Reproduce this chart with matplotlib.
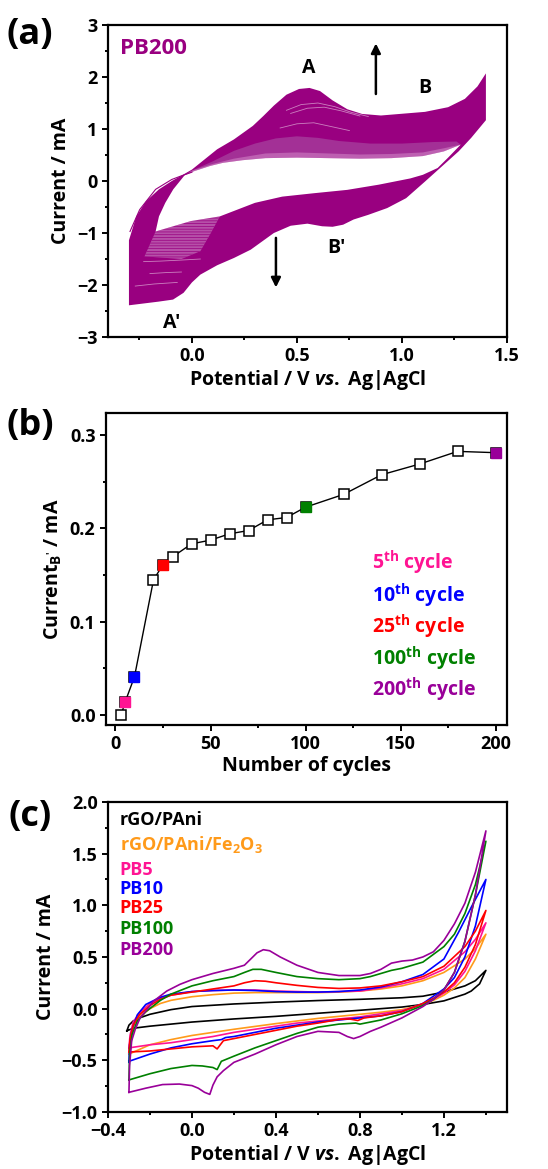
import matplotlib
matplotlib.use('Agg')
from matplotlib import pyplot as plt
from matplotlib.ticker import MultipleLocator

# Fonts (Calibri-like bold look)
plt.rcParams['font.family'] = ['Open Sans', 'DejaVu Sans']
plt.rcParams['font.weight'] = 'bold'
plt.rcParams['axes.labelweight'] = 'bold'
plt.rcParams['mathtext.fontset'] = 'custom'
plt.rcParams['mathtext.rm'] = 'Open Sans:bold'
plt.rcParams['mathtext.it'] = 'Open Sans:italic:bold'
plt.rcParams['mathtext.bf'] = 'Open Sans:bold'
plt.rcParams['hatch.linewidth'] = 0.5

# ---------------- (a) PB200 growth, band envelope of the 200 CV cycles
purple_a = '#990080'
# outer envelope of all cycles
a_outer_x = [-0.30, -0.30, -0.265, -0.219, -0.157, -0.096, -0.043, 0.00, 0.04, 0.12, 0.20, 0.29,
             0.34, 0.39, 0.45, 0.51, 0.56, 0.61, 0.67, 0.74, 0.81, 0.90, 0.99, 1.11, 1.22, 1.30,
             1.36, 1.40, 1.40, 1.33, 1.27, 1.19, 1.11, 1.02, 0.93, 0.84, 0.77, 0.72, 0.67, 0.62,
             0.55, 0.47, 0.39, 0.28, 0.20, 0.12, 0.04, 0.00, -0.04, -0.09, -0.16, -0.30]
a_outer_y = [-2.39, -1.14, -0.68, -0.39, -0.16, 0.00, 0.12, 0.22, 0.35, 0.61, 0.80, 1.06,
             1.25, 1.45, 1.66, 1.77, 1.79, 1.73, 1.55, 1.38, 1.29, 1.26, 1.29, 1.33, 1.42, 1.58,
             1.82, 2.07, 1.17, 0.83, 0.57, 0.28, -0.01, -0.33, -0.52, -0.65, -0.74, -0.84, -0.88, -0.87,
             -0.82, -0.86, -1.00, -1.32, -1.48, -1.62, -1.80, -1.95, -2.15, -2.28, -2.32, -2.39]
# empty region inside the loops
a_hole_x = [-0.035, 0.011, 0.087, 0.148, 0.24, 0.35, 0.50, 0.65, 0.80, 0.95, 1.10, 1.20, 1.28,
            1.22, 1.17, 1.10, 1.04, 0.89, 0.74, 0.58, 0.43, 0.30, 0.133, -0.005, -0.173,
            -0.157, -0.127, -0.089, -0.035]
a_hole_y = [0.11, 0.19, 0.29, 0.35, 0.40, 0.44, 0.45, 0.44, 0.43, 0.44, 0.48, 0.57, 0.70,
            0.45, 0.25, 0.12, 0.05, -0.07, -0.17, -0.235, -0.30, -0.42, -0.68, -0.77, -0.97,
            -0.68, -0.42, -0.16, 0.11]
# sparse early cycles above the hole (wide, faint)
a_light_x = [-0.035, 0.011, 0.087, 0.148, 0.24, 0.35, 0.50, 0.65, 0.80, 0.95, 1.10, 1.20, 1.28,
             1.26, 1.15, 1.00, 0.85, 0.70, 0.60, 0.50, 0.40, 0.30, 0.20, 0.10, 0.00]
a_light_y = [0.11, 0.19, 0.29, 0.35, 0.40, 0.44, 0.45, 0.44, 0.43, 0.44, 0.48, 0.57, 0.70,
             0.76, 0.75, 0.72, 0.72, 0.77, 0.83, 0.86, 0.82, 0.72, 0.58, 0.38, 0.20]
# first few cycles right above the hole (thin, paler)
a_pale_x = [-0.035, 0.011, 0.087, 0.148, 0.24, 0.35, 0.50, 0.65, 0.80, 0.95, 1.10, 1.20, 1.28,
            1.20, 1.10, 0.95, 0.80, 0.65, 0.50, 0.35, 0.20, 0.10, 0.00]
a_pale_y = [0.11, 0.19, 0.29, 0.35, 0.40, 0.44, 0.45, 0.44, 0.43, 0.44, 0.48, 0.57, 0.70,
            0.63, 0.55, 0.52, 0.51, 0.53, 0.55, 0.53, 0.43, 0.33, 0.20]
# sparse early cycles, lower left
a_hatch_x = [-0.173, -0.005, 0.133, 0.09, 0.04, -0.05, -0.226]
a_hatch_y = [-0.97, -0.77, -0.68, -1.00, -1.35, -1.50, -1.45]
# first cycle, visible outside the band on the left
a_first_x = [-0.295, -0.249, -0.173, -0.096, -0.05, 0.00]
a_first_y = [-0.97, -0.55, -0.16, 0.03, 0.10, 0.17]
# a few pale single cycles showing through the band
a_streaks = [
    ([0.45, 0.52, 0.60, 0.68, 0.76, 0.84], [1.36, 1.47, 1.50, 1.43, 1.32, 1.24]),
    ([0.47, 0.55, 0.63, 0.71, 0.80], [1.30, 1.40, 1.42, 1.35, 1.25]),
    ([0.42, 0.50, 0.58, 0.66, 0.75], [1.02, 1.10, 1.12, 1.05, 0.97]),
    ([-0.23, -0.15, -0.05, 0.04], [-1.55, -1.54, -1.52, -1.50]),
    ([-0.20, -0.12, -0.05], [-1.78, -1.76, -1.75]),
    ([-0.27, -0.18, -0.07], [-2.02, -1.98, -1.95]),
]

# ---------------- (b) cathodic peak current vs cycle number
b_cycles = [3, 5, 10, 20, 25, 30, 40, 50, 60, 70, 80, 90, 100, 120, 140, 160, 180, 200]
b_current = [0.0, 0.0133, 0.0409, 0.1448, 0.1613, 0.1695, 0.1835, 0.1875, 0.1943, 0.1978,
             0.2093, 0.2118, 0.2229, 0.2366, 0.2577, 0.2692, 0.2828, 0.2814]
b_marked = [5, 10, 25, 100, 200]
b_colors = ['#FF1493', '#0000FF', '#FF0000', '#008000', '#990099']

# ---------------- (c) CVs of the composites
c_names = ['rGO/PAni', 'rGO/PAni/Fe$_2$O$_3$', 'PB5', 'PB10', 'PB25', 'PB100', 'PB200']
c_colors = ['#000000', '#FF9A1A', '#FF1493', '#0000FF', '#FF0000', '#008000', '#990099']

black_x = [-0.31, -0.30, -0.28, -0.25, -0.20, -0.10, 0.0, 0.2, 0.4, 0.6, 0.8, 1.0, 1.1, 1.2, 1.3, 1.35, 1.40,
           1.37, 1.33, 1.30, 1.2, 1.1, 1.0, 0.8, 0.6, 0.4, 0.2, 0.0, -0.2, -0.28, -0.31]
black_y = [-0.215, -0.16, -0.12, -0.09, -0.055, -0.01, 0.02, 0.045, 0.063, 0.078, 0.09, 0.105, 0.12, 0.16, 0.22, 0.27, 0.37,
           0.24, 0.17, 0.14, 0.075, 0.04, 0.015, -0.016, -0.045, -0.075, -0.10, -0.13, -0.17, -0.19, -0.215]

orange_x = [-0.30, -0.295, -0.28, -0.25, -0.20, -0.15, -0.10, 0.0, 0.1, 0.2, 0.3, 0.4, 0.5, 0.6, 0.7, 0.8, 0.9, 1.0, 1.1, 1.2, 1.3, 1.35, 1.40,
            1.35, 1.30, 1.25, 1.20, 1.15, 1.10, 1.0, 0.9, 0.8, 0.6, 0.4, 0.2, 0.0, -0.1, -0.2, -0.30]
orange_y = [-0.44, -0.32, -0.18, -0.08, 0.0, 0.05, 0.08, 0.115, 0.135, 0.15, 0.155, 0.155, 0.155, 0.155, 0.16, 0.17, 0.19, 0.22, 0.27, 0.35, 0.48, 0.58, 0.72,
            0.48, 0.30, 0.20, 0.13, 0.08, 0.04, -0.01, -0.035, -0.055, -0.095, -0.145, -0.20, -0.26, -0.30, -0.35, -0.44]

pink_x = [-0.30, -0.295, -0.28, -0.25, -0.20, -0.15, -0.10, 0.0, 0.1, 0.2, 0.3, 0.4, 0.5, 0.6, 0.7, 0.8, 0.9, 1.0, 1.1, 1.2, 1.3, 1.35, 1.40,
          1.35, 1.30, 1.25, 1.20, 1.15, 1.10, 1.0, 0.9, 0.8, 0.7, 0.6, 0.5, 0.4, 0.3, 0.2, 0.1, 0.0, -0.1, -0.2, -0.30]
pink_y = [-0.38, -0.26, -0.13, -0.04, 0.05, 0.10, 0.13, 0.165, 0.175, 0.18, 0.18, 0.17, 0.165, 0.16, 0.165, 0.17, 0.20, 0.24, 0.29, 0.38, 0.55, 0.67, 0.83,
          0.56, 0.36, 0.23, 0.15, 0.09, 0.04, -0.02, -0.05, -0.08, -0.10, -0.12, -0.14, -0.17, -0.20, -0.23, -0.27, -0.30, -0.33, -0.35, -0.38]

blue_x = [-0.30, -0.297, -0.285, -0.26, -0.22, -0.15, -0.10, 0.0, 0.1, 0.2, 0.3, 0.4, 0.5, 0.6, 0.7, 0.8, 0.9, 1.0, 1.1, 1.2, 1.27, 1.33, 1.40,
          1.35, 1.30, 1.25, 1.20, 1.15, 1.10, 1.0, 0.9, 0.8, 0.7, 0.6, 0.5, 0.4, 0.3, 0.2, 0.16, 0.14, 0.1, 0.0, -0.1, -0.2, -0.30]
blue_y = [-0.52, -0.35, -0.20, -0.06, 0.04, 0.11, 0.14, 0.165, 0.175, 0.18, 0.175, 0.165, 0.16, 0.16, 0.165, 0.18, 0.21, 0.26, 0.33, 0.48, 0.74, 0.98, 1.25,
          0.80, 0.50, 0.30, 0.19, 0.12, 0.05, -0.03, -0.07, -0.09, -0.11, -0.13, -0.16, -0.19, -0.23, -0.27, -0.28, -0.30, -0.31, -0.34, -0.38, -0.44, -0.51]

red_x = [-0.30, -0.295, -0.28, -0.25, -0.20, -0.15, -0.10, 0.0, 0.1, 0.2, 0.25, 0.3, 0.35, 0.4, 0.5, 0.6, 0.7, 0.8, 0.9, 1.0, 1.1, 1.2, 1.3, 1.35, 1.40,
         1.35, 1.30, 1.25, 1.20, 1.15, 1.10, 1.0, 0.9, 0.82, 0.79, 0.75, 0.7, 0.6, 0.5, 0.4, 0.3, 0.2, 0.15, 0.12, 0.1, 0.05, 0.0, -0.1, -0.2, -0.30]
red_y = [-0.42, -0.30, -0.16, -0.06, 0.03, 0.09, 0.13, 0.16, 0.19, 0.22, 0.25, 0.27, 0.265, 0.25, 0.225, 0.205, 0.195, 0.20, 0.22, 0.26, 0.31, 0.41, 0.60, 0.75, 0.95,
         0.62, 0.40, 0.25, 0.16, 0.10, 0.05, -0.03, -0.07, -0.09, -0.115, -0.10, -0.105, -0.14, -0.17, -0.21, -0.25, -0.29, -0.31, -0.39, -0.36, -0.365, -0.37, -0.39, -0.41, -0.42]

green_x = [-0.30, -0.297, -0.285, -0.26, -0.22, -0.15, -0.10, 0.0, 0.1, 0.2, 0.25, 0.29, 0.33, 0.4, 0.5, 0.6, 0.7, 0.8, 0.85, 0.9, 0.95, 1.0, 1.1, 1.2, 1.25, 1.3, 1.35, 1.40,
           1.35, 1.30, 1.25, 1.20, 1.15, 1.10, 1.0, 0.9, 0.85, 0.8, 0.78, 0.7, 0.6, 0.5, 0.4, 0.3, 0.2, 0.14, 0.12, 0.1, 0.05, 0.0, -0.1, -0.2, -0.30]
green_y = [-0.69, -0.45, -0.25, -0.12, -0.03, 0.08, 0.14, 0.22, 0.27, 0.31, 0.35, 0.38, 0.38, 0.35, 0.31, 0.29, 0.28, 0.29, 0.31, 0.34, 0.37, 0.39, 0.45, 0.60, 0.72, 0.92, 1.20, 1.62,
           1.10, 0.65, 0.35, 0.18, 0.09, 0.03, -0.05, -0.11, -0.13, -0.15, -0.14, -0.15, -0.18, -0.24, -0.31, -0.38, -0.46, -0.51, -0.59, -0.57, -0.555, -0.55, -0.58, -0.63, -0.69]

purple_x = [-0.30, -0.297, -0.287, -0.27, -0.247, -0.21, -0.184, -0.12, -0.057, 0.0, 0.1, 0.2, 0.25, 0.28, 0.31, 0.34, 0.37, 0.42, 0.5, 0.6, 0.7, 0.8, 0.85, 0.9, 0.95, 1.0, 1.05, 1.1, 1.15, 1.2, 1.25, 1.3, 1.35, 1.40,
            1.35, 1.30, 1.25, 1.20, 1.15, 1.10, 1.0, 0.9, 0.85, 0.8, 0.77, 0.74, 0.7, 0.6, 0.5, 0.4, 0.3, 0.2, 0.15, 0.12, 0.1, 0.085, 0.06, 0.03, 0.0, -0.06, -0.14, -0.22, -0.30]
purple_y = [-0.81, -0.55, -0.31, -0.20, -0.09, 0.0, 0.07, 0.17, 0.235, 0.28, 0.34, 0.39, 0.42, 0.48, 0.54, 0.57, 0.56, 0.50, 0.42, 0.35, 0.32, 0.32, 0.34, 0.38, 0.44, 0.46, 0.47, 0.50, 0.55, 0.66, 0.82, 1.02, 1.32, 1.72,
            1.10, 0.65, 0.35, 0.18, 0.09, 0.02, -0.09, -0.18, -0.22, -0.27, -0.29, -0.27, -0.23, -0.22, -0.27, -0.35, -0.44, -0.52, -0.60, -0.66, -0.74, -0.83, -0.81, -0.77, -0.745, -0.73, -0.735, -0.77, -0.81]

c_curves = [(black_x, black_y), (orange_x, orange_y), (pink_x, pink_y), (blue_x, blue_y),
            (red_x, red_y), (green_x, green_y), (purple_x, purple_y)]


def style_axes(ax):
    for s in ax.spines.values():
        s.set_linewidth(1.6)
    ax.tick_params(which='both', direction='out', top=False, right=False, labelsize=13, width=1.4)
    ax.tick_params(which='major', length=4.5, pad=3)
    ax.tick_params(which='minor', length=2.5)


fig = plt.figure(figsize=(5.48, 11.69), dpi=100)

# Panel (a)
ax1 = fig.add_axes([0.197, 0.7117, 0.728, 0.2669])
ax1.fill(a_outer_x, a_outer_y, color=purple_a, lw=0)
ax1.fill(a_light_x, a_light_y, color='#A33096', lw=0)
ax1.fill(a_pale_x, a_pale_y, color='#BD60B1', lw=0)
ax1.fill(a_hatch_x, a_hatch_y, facecolor='#B650A8', edgecolor=purple_a, hatch='------', lw=0)
ax1.fill(a_hole_x, a_hole_y, color='white', lw=0)
ax1.plot(a_first_x, a_first_y, color=purple_a, lw=0.8)
for sx, sy in a_streaks:
    ax1.plot(sx, sy, color='#D9A0D0', lw=0.6, alpha=0.8)
ax1.set_xlim(-0.4, 1.5)
ax1.set_ylim(-3, 3)
ax1.xaxis.set_minor_locator(MultipleLocator(0.25))
ax1.yaxis.set_major_locator(MultipleLocator(1))
ax1.yaxis.set_minor_locator(MultipleLocator(0.5))
ax1.set_xticks([0.0, 0.5, 1.0, 1.5])
ax1.set_xticklabels(['0.0', '0.5', '1.0', '1.5'])
ax1.set_xlabel('Potential / V $\\mathit{vs.}$ Ag$\\vert$AgCl', fontsize=14, labelpad=2)
ax1.set_ylabel('Current / mA', fontsize=14, labelpad=4)
style_axes(ax1)
ax1.text(-0.345, 2.55, 'PB200', color=purple_a, fontsize=16, va='center', ha='left')
ax1.text(0.555, 2.18, 'A', fontsize=14, ha='center', va='center')
ax1.text(1.11, 1.78, 'B', fontsize=14, ha='center', va='center')
ax1.text(-0.095, -2.73, "A'", fontsize=14, ha='center', va='center')
ax1.text(0.69, -1.28, "B'", fontsize=14, ha='center', va='center')
ax1.annotate('', xy=(0.876, 2.7), xytext=(0.876, 1.62),
             arrowprops=dict(arrowstyle='-|>', lw=1.8, color='k', mutation_scale=14))
ax1.annotate('', xy=(0.40, -2.1), xytext=(0.40, -1.04),
             arrowprops=dict(arrowstyle='-|>', lw=1.8, color='k', mutation_scale=14))

# Panel (b)
ax2 = fig.add_axes([0.1934, 0.3798, 0.7318, 0.2669])
ax2.plot(b_cycles, b_current, color='k', lw=1.0, marker='s', markersize=7,
         markerfacecolor='white', markeredgecolor='k', markeredgewidth=1.1)
for c, col in zip(b_marked, b_colors):
    i = b_cycles.index(c)
    ax2.plot(b_cycles[i], b_current[i], marker='s', markersize=7.5, color=col,
             markeredgecolor=col, linestyle='none')
ax2.set_xlim(-5, 206)
ax2.set_ylim(-0.011, 0.324)
ax2.xaxis.set_major_locator(MultipleLocator(50))
ax2.xaxis.set_minor_locator(MultipleLocator(25))
ax2.yaxis.set_major_locator(MultipleLocator(0.1))
ax2.yaxis.set_minor_locator(MultipleLocator(0.05))
ax2.set_xlabel('Number of cycles', fontsize=14, labelpad=2)
ax2.set_ylabel("Current$_{\\mathrm{B'}}$ / mA", fontsize=14, labelpad=4)
style_axes(ax2)
b_y = [0.163, 0.128, 0.094, 0.060, 0.027]
for c, col, yy in zip(b_marked, b_colors, b_y):
    ax2.text(135, yy, '%d$^{\\mathrm{th}}$ cycle' % c, color=col, fontsize=14, va='center')

# Panel (c)
ax3 = fig.add_axes([0.197, 0.0488, 0.728, 0.2652])
for (xs, ys), col in zip(c_curves, c_colors):
    ax3.plot(xs, ys, color=col, lw=1.2)
ax3.set_xlim(-0.4, 1.5)
ax3.set_ylim(-1.0, 2.0)
ax3.set_xticks([-0.4, 0.0, 0.4, 0.8, 1.2])
ax3.xaxis.set_minor_locator(MultipleLocator(0.2))
ax3.yaxis.set_major_locator(MultipleLocator(0.5))
ax3.yaxis.set_minor_locator(MultipleLocator(0.25))
ax3.set_xlabel('Potential / V $\\mathit{vs.}$ Ag$\\vert$AgCl', fontsize=14, labelpad=2)
ax3.set_ylabel('Current / mA', fontsize=14, labelpad=4)
style_axes(ax3)
c_label_y = [1.826, 1.584, 1.342, 1.158, 0.974, 0.77, 0.567]
for name, col, yy in zip(c_names, c_colors, c_label_y):
    ax3.text(-0.345, yy, name, color=col, fontsize=13, va='center')

# Panel letters
fig.text(0.055, 0.970, '(a)', fontsize=26, ha='center', va='center')
fig.text(0.055, 0.636, '(b)', fontsize=26, ha='center', va='center')
fig.text(0.055, 0.301, '(c)', fontsize=26, ha='center', va='center')

fig.savefig('out.png', dpi=100)
